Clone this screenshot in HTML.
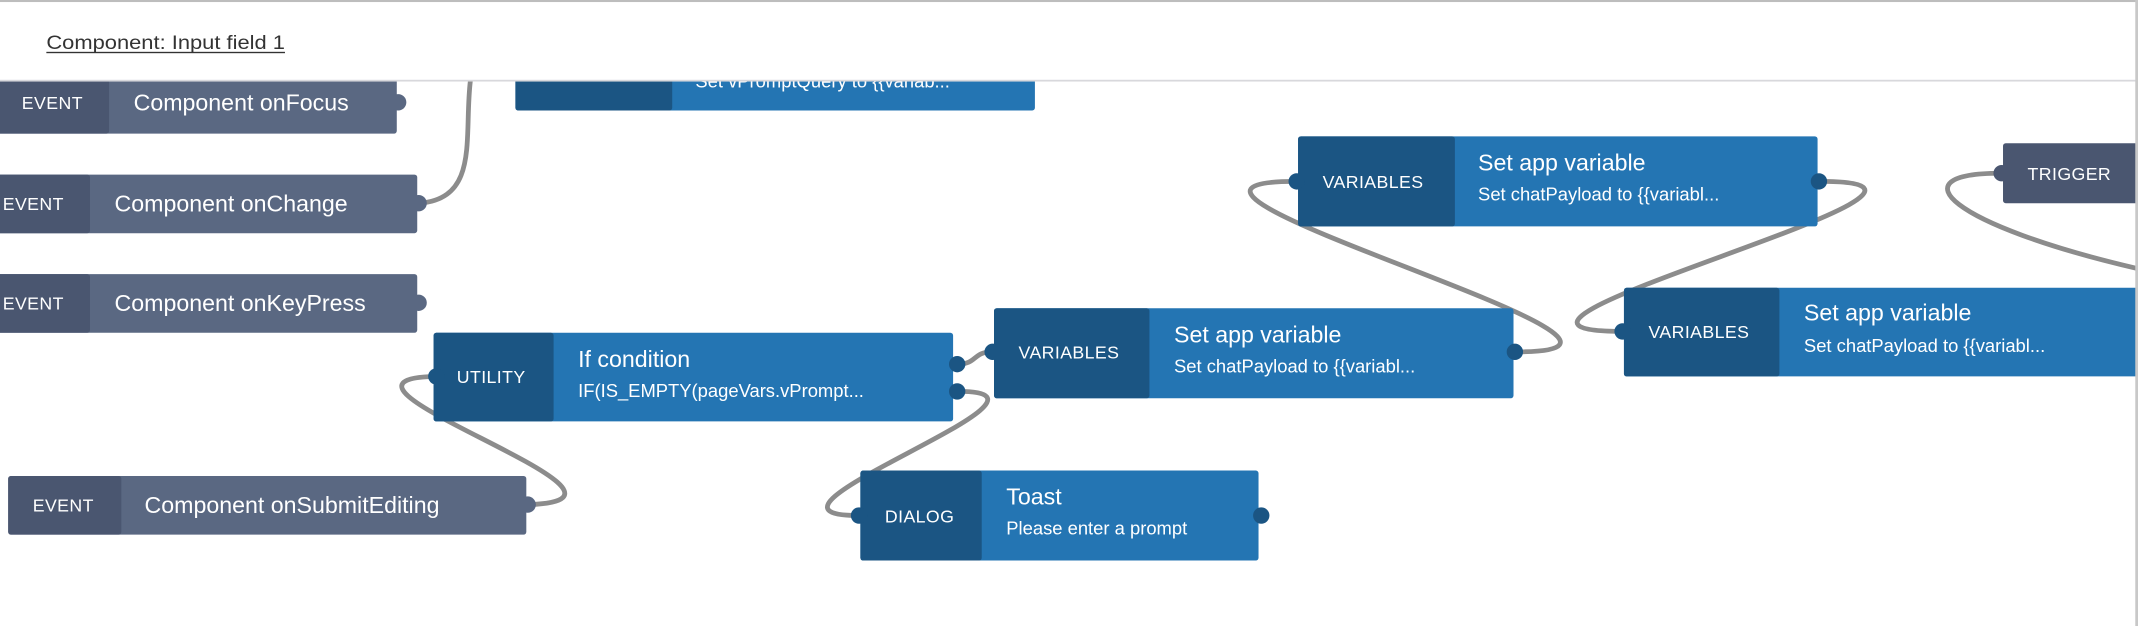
<!DOCTYPE html>
<html><head><meta charset="utf-8"><style>
html,body{margin:0;padding:0;background:#fff;width:2138px;height:626px;overflow:hidden}
svg{display:block}
text{font-family:"Liberation Sans",sans-serif;fill:#fff}
.l{font-size:13px;letter-spacing:0.3px}
.t{font-size:17px}
.s{font-size:13.5px}
</style></head><body>
<svg width="2138" height="626" viewBox="0 0 1568 459" preserveAspectRatio="none" xmlns="http://www.w3.org/2000/svg">
<g fill="none" stroke="#8c8c8c" stroke-width="3.5">
<path d="M308,149 C352,145 340,100 345,59"/>
<path d="M388,370 C500,366 210,278 320,276"/>
<path d="M703,267 C716,267 714,258 727,258"/>
<path d="M703,287 C800,287 530,378 629,378"/>
<path d="M1112,258 C1270,258 790,133 950,133"/>
<path d="M1335,133 C1490,133 1035,243 1189,243"/>
<path d="M1467,127 C1390,127 1430,165 1568,197"/>
</g>
<!-- top hidden node -->
<rect x="378" y="30" width="381" height="51" rx="2" fill="#2475b3"/>
<rect x="378" y="30" width="115" height="51" rx="2" fill="#1b5583"/>
<text x="510" y="64" class="s">Set vPromptQuery to {{variab...</text>
<!-- events -->
<g>
<rect x="-5" y="50" width="296" height="48" rx="2" fill="#5a6882"/>
<rect x="-5" y="50" width="85" height="48" rx="2" fill="#4a5670"/>
<text x="16" y="80" class="l">EVENT</text><text x="98" y="81" class="t">Component onFocus</text>
<circle cx="292" cy="75" r="6" fill="#5a6882"/>

<rect x="-5" y="128" width="311" height="43" rx="2" fill="#5a6882"/>
<rect x="-5" y="128" width="71" height="43" rx="2" fill="#4a5670"/>
<text x="2" y="154" class="l">EVENT</text><text x="84" y="155" class="t">Component onChange</text>
<circle cx="307" cy="149" r="6" fill="#5a6882"/>

<rect x="-5" y="201" width="311" height="43" rx="2" fill="#5a6882"/>
<rect x="-5" y="201" width="71" height="43" rx="2" fill="#4a5670"/>
<text x="2" y="227" class="l">EVENT</text><text x="84" y="228" class="t">Component onKeyPress</text>
<circle cx="307" cy="222" r="6" fill="#5a6882"/>

<rect x="6" y="349" width="380" height="43" rx="2" fill="#5a6882"/>
<rect x="6" y="349" width="83" height="43" rx="2" fill="#4a5670"/>
<text x="24" y="375" class="l">EVENT</text><text x="106" y="376" class="t">Component onSubmitEditing</text>
<circle cx="387" cy="370" r="6" fill="#5a6882"/>
</g>
<!-- utility -->
<rect x="318" y="244" width="381" height="65" rx="2" fill="#2475b3"/>
<rect x="318" y="244" width="88" height="65" rx="2" fill="#1b5583"/>
<circle cx="320" cy="276" r="6" fill="#1b5583"/>
<circle cx="702" cy="267" r="6" fill="#1b5583"/>
<circle cx="702" cy="287" r="6" fill="#1b5583"/>
<text x="335" y="281" class="l">UTILITY</text>
<text x="424" y="269" class="t">If condition</text>
<text x="424" y="291" class="s">IF(IS_EMPTY(pageVars.vPrompt...</text>
<!-- variables 1 -->
<rect x="729" y="226" width="381" height="66" rx="2" fill="#2475b3"/>
<rect x="729" y="226" width="114" height="66" rx="2" fill="#1b5583"/>
<circle cx="728" cy="258" r="6" fill="#1b5583"/>
<circle cx="1111" cy="258" r="6" fill="#1b5583"/>
<text x="747" y="263" class="l">VARIABLES</text>
<text x="861" y="251" class="t">Set app variable</text>
<text x="861" y="273" class="s">Set chatPayload to {{variabl...</text>
<!-- toast -->
<rect x="631" y="345" width="292" height="66" rx="2" fill="#2475b3"/>
<rect x="631" y="345" width="89" height="66" rx="2" fill="#1b5583"/>
<circle cx="630" cy="378" r="6" fill="#1b5583"/>
<circle cx="925" cy="378" r="6" fill="#1b5583"/>
<text x="649" y="383" class="l">DIALOG</text>
<text x="738" y="370" class="t">Toast</text>
<text x="738" y="392" class="s">Please enter a prompt</text>
<!-- variables 2 -->
<rect x="952" y="100" width="381" height="66" rx="2" fill="#2475b3"/>
<rect x="952" y="100" width="115" height="66" rx="2" fill="#1b5583"/>
<circle cx="951" cy="133" r="6" fill="#1b5583"/>
<circle cx="1334" cy="133" r="6" fill="#1b5583"/>
<text x="970" y="138" class="l">VARIABLES</text>
<text x="1084" y="125" class="t">Set app variable</text>
<text x="1084" y="147" class="s">Set chatPayload to {{variabl...</text>
<!-- variables 3 -->
<rect x="1191" y="211" width="390" height="65" rx="2" fill="#2475b3"/>
<rect x="1191" y="211" width="114" height="65" rx="2" fill="#1b5583"/>
<circle cx="1190" cy="243" r="6" fill="#1b5583"/>
<text x="1209" y="248" class="l">VARIABLES</text>
<text x="1323" y="235" class="t">Set app variable</text>
<text x="1323" y="258" class="s">Set chatPayload to {{variabl...</text>
<!-- trigger -->
<rect x="1469" y="105" width="110" height="44" rx="2" fill="#4a5670"/>
<circle cx="1468" cy="127" r="6" fill="#4a5670"/>
<text x="1487" y="132" class="l">TRIGGER</text>
<!-- header -->
<rect x="0" y="0" width="1568" height="59" fill="#fff"/>
<rect x="0" y="0" width="1568" height="1.5" fill="#bdbdbd"/>
<rect x="0" y="58.5" width="1568" height="1.3" fill="#d8d8dc"/>
<rect x="1566" y="0" width="2" height="459" fill="#c8c8c8"/>
<text x="34" y="36" textLength="175" lengthAdjust="spacingAndGlyphs" style="font-size:14.5px;fill:#333">Component: Input field 1</text>
<rect x="34" y="38" width="175" height="1" fill="#333"/>
</svg>
</body></html>
